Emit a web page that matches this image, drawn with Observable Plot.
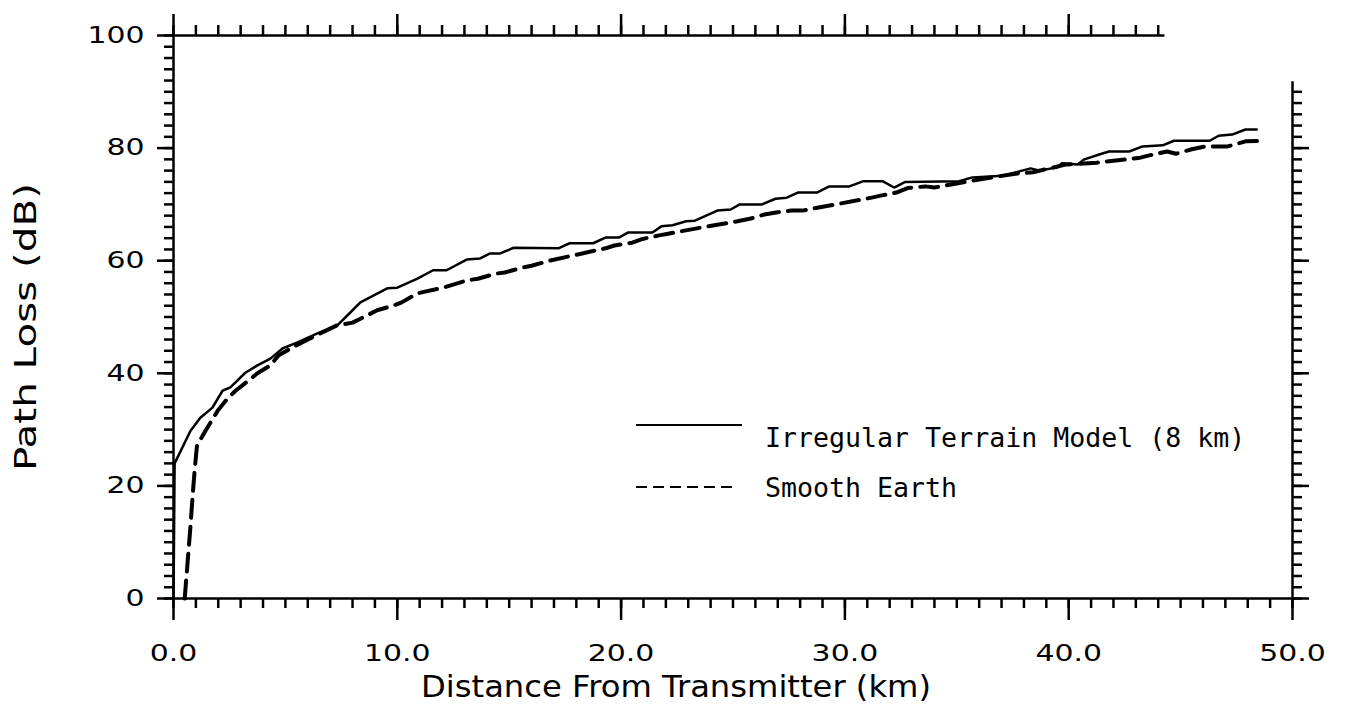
<!DOCTYPE html>
<html>
<head>
<meta charset="utf-8">
<script src="https://cdn.jsdelivr.net/npm/d3@7"></script>
<script src="https://cdn.jsdelivr.net/npm/@observablehq/plot@0.6"></script>
<style>
  html, body { margin: 0; padding: 0; background: #fff; }
  #chart { width: 1345px; height: 715px; }
</style>
</head>
<body>
<div id="chart"></div>
<script>
// ---- Data ----
// Irregular Terrain Model (8 km) – solid
const itmDistance = [0, 0.05, 0.76, 1.2, 1.74, 2.19, 2.54, 3.21, 3.75, 4.33, 4.87, 5.54, 6.43, 7.32, 7.9, 8.35, 9.55, 10.0, 10.9, 11.6, 12.2, 13.1, 13.7, 14.15, 14.6, 15.2, 17.2, 17.7, 18.75, 19.3, 19.9, 20.3, 21.4, 21.8, 22.3, 22.9, 23.3, 23.8, 24.3, 24.9, 25.3, 26.3, 26.9, 27.4, 27.9, 28.75, 29.3, 30.2, 30.8, 31.7, 32.2, 32.7, 35.1, 35.7, 37.05, 38.3, 38.7, 39.5, 39.7, 40.4, 40.7, 41.4, 41.8, 42.7, 43.3, 44.2, 44.7, 46.3, 46.7, 47.3, 47.9, 48.4];
const itmLoss     = [0, 24, 29.8, 32.1, 33.9, 36.9, 37.5, 40.1, 41.4, 42.6, 44.4, 45.5, 47.1, 48.5, 50.8, 52.6, 55.1, 55.2, 56.8, 58.3, 58.3, 60.2, 60.4, 61.3, 61.3, 62.3, 62.2, 63.1, 63.1, 64.1, 64.1, 65.0, 65.0, 66.1, 66.3, 67.0, 67.1, 68.0, 68.9, 69.1, 70.0, 70.0, 71.0, 71.2, 72.1, 72.1, 73.2, 73.2, 74.1, 74.1, 73.0, 74.0, 74.1, 74.8, 75.1, 76.4, 76.0, 76.6, 77.3, 77.1, 78.0, 78.9, 79.4, 79.4, 80.3, 80.5, 81.3, 81.3, 82.2, 82.4, 83.3, 83.3];

// Smooth Earth – dashed
const seDistance = [0.5, 0.75, 0.85, 0.95, 1.05, 1.43, 2.0, 2.41, 2.77, 3.35, 3.75, 4.33, 4.7, 5.5, 6.4, 7.3, 8.0, 8.66, 9.1, 9.8, 10.2, 10.9, 12.05, 13.1, 13.6, 14.4, 14.8, 15.6, 16.0, 16.8, 19.3, 19.7, 20.5, 20.9, 21.7, 22.1, 23.6, 25.2, 25.8, 26.4, 27.0, 27.6, 28.1, 29.6, 31.2, 31.65, 32.3, 32.8, 33.6, 34.0, 35.8, 37.7, 38.4, 39.9, 41.25, 43.2, 43.6, 44.4, 44.8, 45.5, 46.1, 47.1, 47.9, 48.75];
const seLoss     = [0, 12.4, 18, 23, 27.2, 29.8, 33.5, 35.5, 36.9, 38.7, 40.0, 41.4, 43.2, 45.0, 46.8, 48.5, 49.0, 50.3, 51.2, 52.0, 52.6, 54.2, 55.2, 56.5, 56.8, 57.7, 57.9, 58.8, 59.1, 60.0, 62.2, 62.7, 63.2, 63.8, 64.5, 64.8, 65.9, 67.0, 67.5, 68.2, 68.6, 68.9, 68.9, 70.0, 71.2, 71.6, 72.1, 72.9, 73.2, 73.0, 74.3, 75.5, 75.7, 77.1, 77.4, 78.3, 78.7, 79.4, 79.0, 79.8, 80.3, 80.3, 81.2, 81.3];

// Axes
const xMajorTicks = [0, 10, 20, 30, 40, 50];
const xTickLabels = ["0.0", "10.0", "20.0", "30.0", "40.0", "50.0"];
const xMinorTicks = d3.range(0, 51, 1);
const xTopMajorTicks = [0, 10, 20, 30, 40];
const xTopMinorTicks = d3.range(0, 45, 1);
const xTopEnd = 44.3;

const yMajorTicks = [0, 20, 40, 60, 80, 100];
const yTickLabels = ["0", "20", "40", "60", "80", "100"];
const yMinorTicks = d3.range(0, 101, 2);
const yRightMajorTicks = [0, 20, 40, 60, 80];
const yRightMinorTicks = d3.range(0, 91, 2);
const yRightEnd = 91.8;

const xTitle = "Distance From Transmitter (km)";
const yTitle = "Path Loss (dB)";
const seriesNames = ["Irregular Terrain Model (8 km)", "Smooth Earth"];

// ---- Build tables ----
const itm = itmDistance.map((d, i) => ({ x: d, y: itmLoss[i] }));
const se = seDistance.map((d, i) => ({ x: d, y: seLoss[i] }));

// ---- Layout ----
const width = 1345, height = 715;
const mL = 173, mR = 53, mT = 35, mB = 117;
const fw = width - mL - mR;   // frame width
const fh = height - mT - mB;  // frame height
const W = 2.5;

// outward tick helpers (pixel tick lengths via insets)
const ticksBottom = (vals, len) => Plot.tickX(vals, { x: d => d, insetTop: fh, insetBottom: -len, strokeWidth: W, stroke: "black" });
const ticksTop    = (vals, len) => Plot.tickX(vals, { x: d => d, insetBottom: fh, insetTop: -len, strokeWidth: W, stroke: "black" });
const ticksLeft   = (vals, len) => Plot.tickY(vals, { y: d => d, insetRight: fw, insetLeft: -len, strokeWidth: W, stroke: "black" });
const ticksRight  = (vals, len) => Plot.tickY(vals, { y: d => d, insetLeft: fw, insetRight: -len, strokeWidth: W, stroke: "black" });

const plot = Plot.plot({
  width, height,
  marginLeft: mL, marginRight: mR, marginTop: mT, marginBottom: mB,
  x: { domain: [0, 50] },
  y: { domain: [0, 100] },
  style: { fontFamily: "'DejaVu Sans', sans-serif", background: "white", color: "black", overflow: "visible" },
  marks: [
    // axis lines
    Plot.ruleY([0], { strokeWidth: W }),
    Plot.ruleX([0], { strokeWidth: W }),
    Plot.ruleY([100], { x1: 0, x2: xTopEnd, strokeWidth: W }),
    Plot.ruleX([50], { y1: 0, y2: yRightEnd, strokeWidth: W }),
    // ticks
    ticksBottom(xMinorTicks, 10),
    ticksBottom(xMajorTicks, 22),
    ticksTop(xTopMinorTicks, 10),
    ticksTop(xTopMajorTicks, 21),
    ticksLeft(yMinorTicks, 9),
    ticksLeft(yMajorTicks, 16),
    ticksRight(yRightMinorTicks, 10),
    ticksRight(yRightMajorTicks, 17),
    // tick labels
    Plot.axisX({ anchor: "bottom", ticks: xMajorTicks, tickSize: 0, tickPadding: 46, tickFormat: d => xTickLabels[xMajorTicks.indexOf(d)], fontSize: 23, label: null }),
    Plot.axisY({ anchor: "left", ticks: yMajorTicks, tickSize: 0, tickPadding: 29, tickFormat: d => yTickLabels[yMajorTicks.indexOf(d)], fontSize: 23, label: null }),
    // series
    Plot.line(itm, { x: "x", y: "y", stroke: "black", strokeWidth: 2.5, strokeLinejoin: "round" }),
    Plot.line(se, { x: "x", y: "y", stroke: "black", strokeWidth: 4, strokeDasharray: "18,9", strokeLinejoin: "round" }),
    // titles
    Plot.text([xTitle], { text: d => d, frameAnchor: "bottom", dx: -57, dy: 98, fontSize: 30 }),
    Plot.text([yTitle], { text: d => d, frameAnchor: "left", textAnchor: "start", rotate: -90, dx: -147, dy: 154, fontSize: 30 })
  ]
});

document.getElementById("chart").appendChild(plot);

// stretch the labels horizontally to mimic the wide geometric lettering
const svg = d3.select(plot);
svg.selectAll('g[aria-label$="tick label"] text').each(function () {
  if (!this.textContent) return;
  const len = this.getComputedTextLength();
  this.setAttribute("textLength", len * 1.3);
  this.setAttribute("lengthAdjust", "spacingAndGlyphs");
});
svg.selectAll('g[aria-label="text"] text').each(function () {
  const target = this.textContent === xTitle ? 510 : 288;
  this.setAttribute("textLength", target);
  this.setAttribute("lengthAdjust", "spacingAndGlyphs");
});

// legend (pixel layout inside the frame)
const lg = svg.append("g").attr("font-family", "'DejaVu Sans Mono', monospace").attr("font-size", 26.6).attr("text-anchor", "start");
lg.append("line").attr("x1", 636).attr("x2", 742).attr("y1", 425).attr("y2", 425)
  .attr("stroke", "black").attr("stroke-width", 2);
lg.append("text").attr("x", 765).attr("y", 447).text(seriesNames[0]);
lg.append("line").attr("x1", 636).attr("x2", 732).attr("y1", 487).attr("y2", 487)
  .attr("stroke", "black").attr("stroke-width", 2).attr("stroke-dasharray", "11,6");
lg.append("text").attr("x", 765).attr("y", 497).text(seriesNames[1]);
</script>
</body>
</html>
